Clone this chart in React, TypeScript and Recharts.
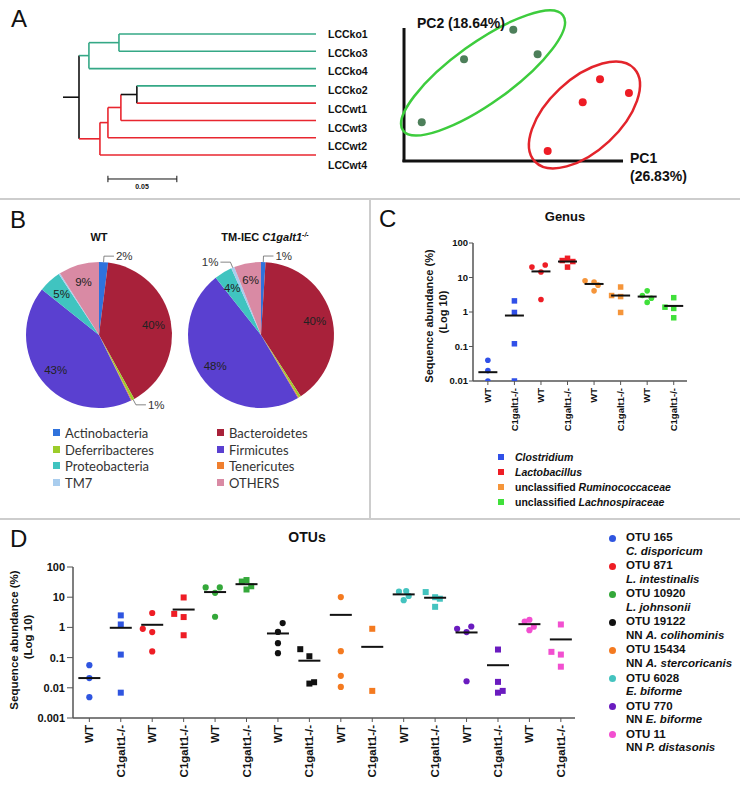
import React from 'react';
import { ScatterChart, Scatter, XAxis, YAxis, ReferenceLine, ReferenceDot, PieChart, Pie, Cell } from 'recharts';

const FONT = '"Liberation Sans", Arial, Helvetica, sans-serif';

// ---------- A: cluster tree ----------
const leafNames = ['LCCko1', 'LCCko3', 'LCCko4', 'LCCko2', 'LCCwt1', 'LCCwt3', 'LCCwt2', 'LCCwt4'];
const leafDepth = 0.172;
const rootStubStart = -0.0116;
const treeNodes = [
  { id: 'root', h: 0, kids: ['g', 'r'] },
  { id: 'g', h: 0.0072, kids: ['g2', 'LCCko4'] },
  { id: 'g2', h: 0.029, kids: ['LCCko1', 'LCCko3'] },
  { id: 'r', h: 0.0152, kids: ['r2', 'LCCwt4'] },
  { id: 'r2', h: 0.021, kids: ['r3', 'LCCwt2'] },
  { id: 'r3', h: 0.0304, kids: ['mix', 'LCCwt3'] },
  { id: 'mix', h: 0.042, kids: ['LCCko2', 'LCCwt1'] },
];
const scaleBarStart = 0.021;
const scaleBarLength = 0.05;

// ---------- A: PCA ----------
const pcaKo = [
  { x: 0.499, y: 0.987 },
  { x: 0.274, y: 0.765 },
  { x: 0.61, y: 0.802 },
  { x: 0.081, y: 0.291 },
];
const pcaWt = [
  { x: 0.895, y: 0.614 },
  { x: 1.027, y: 0.511 },
  { x: 0.816, y: 0.441 },
  { x: 0.656, y: 0.075 },
];
const koCentre = { x: 0.361, y: 0.662 };
const wtCentre = { x: 0.824, y: 0.346 };

// ---------- B: phyla ----------
const phyla = ['Actinobacteria', 'Bacteroidetes', 'Deferribacteres', 'Tenericutes', 'Firmicutes', 'Proteobacteria', 'TM7', 'OTHERS'];
const wtShare = [2, 40, 0.6, 0.2, 43, 5, 0.3, 9];
const koShare = [1, 40, 0.5, 0.2, 48, 4, 0.7, 6];
const wtPieLabels = ['2%', '40%', '1%', '', '43%', '5%', '', '9%'];
const koPieLabels = ['1%', '40%', '', '', '48%', '4%', '1%', '6%'];
const legendOrder = ['Actinobacteria', 'Deferribacteres', 'Proteobacteria', 'TM7', 'Bacteroidetes', 'Firmicutes', 'Tenericutes', 'OTHERS'];

// ---------- C: genus ----------
const groupTicks = ['WT', 'C1galt1-/-'];
const genusNames = ['Clostridium', 'Lactobacillus', 'Ruminococcaceae', 'Lachnospiraceae'];
const genusPrefix = ['', '', 'unclassified ', 'unclassified '];
// [offset within category, abundance %]
const genusWT = [
  [[0, 0.04], [0, 0.02], [0, 0.01]],
  [[-0.34, 20], [0, 14.4], [0.16, 23], [0, 2.3]],
  [[-0.34, 8.0], [0, 7.4], [0.15, 6.0], [0, 4.1]],
  [[-0.18, 3.0], [0, 4.1], [0.16, 2.5], [0, 1.9]],
];
const genusKO = [
  [[0, 2.1], [0, 0.97], [0, 0.12], [0, 0.01]],
  [[0, 36], [-0.2, 31], [0.2, 29], [0, 20]],
  [[-0.34, 3.0], [0, 5.3], [0, 2.8], [0, 0.97]],
  [[-0.33, 1.38], [0, 2.6], [0, 1.27], [0, 0.68]],
];
const genusMedianWT = [0.018, 15, 6.5, 2.8];
const genusMedianKO = [0.79, 29, 3.0, 1.5];

// ---------- D: OTUs ----------
const otuIds = ['OTU 165', 'OTU 871', 'OTU 10920', 'OTU 19122', 'OTU 15434', 'OTU 6028', 'OTU 770', 'OTU 11'];
const otuNN = ['', '', '', 'NN ', 'NN ', '', 'NN ', 'NN '];
const otuSpecies = ['C. disporicum', 'L. intestinalis', 'L. johnsonii', 'A. colihominis', 'A. stercoricanis', 'E. biforme', 'E. biforme', 'P. distasonis'];
const otuWT = [
  [[0, 0.056], [0, 0.021], [0, 0.0049]],
  [[0, 3.0], [-0.3, 0.9], [0, 0.7], [0, 0.16]],
  [[-0.3, 21], [0, 14], [0.15, 21], [0, 2.25]],
  [[0.15, 1.39], [0, 0.71], [0, 0.3], [0, 0.14]],
  [[0, 10.1], [0, 0.163], [0, 0.025], [0, 0.0107]],
  [[-0.15, 15.2], [0.08, 15.9], [0.16, 11], [0, 8.0]],
  [[-0.3, 0.9], [0, 0.7], [0.15, 1.07], [0, 0.0165]],
  [[-0.15, 1.57], [0, 1.79], [0.14, 1.05], [0, 0.81]],
];
const otuKO = [
  [[0, 2.5], [0, 1.25], [0, 0.126], [0, 0.0069]],
  [[0, 9.8], [-0.3, 2.8], [0, 2.2], [0, 0.55]],
  [[-0.15, 33], [0, 37], [0.15, 23], [0, 18]],
  [[-0.29, 0.19], [0, 0.111], [0, 0.0138], [0.15, 0.0153]],
  [[0, 0.9], [0, 0.0079]],
  [[-0.3, 14.8], [0, 10], [0.15, 8.9], [0, 4.8]],
  [[0, 0.185], [0, 0.0157], [0, 0.0069], [0.15, 0.0079]],
  [[0, 1.25], [-0.3, 0.155], [0, 0.126], [0, 0.05]],
];
const otuMedianWT = [0.021, 1.22, 14.8, 0.63, 2.6, 12.4, 0.68, 1.28];
const otuMedianKO = [0.97, 3.9, 27, 0.079, 0.227, 9.6, 0.056, 0.4];

// ---------- colours ----------
const TREE_GREEN = '#35a886';
const TREE_RED = '#e8262f';
const INK = '#111';
const phylaColors: Record<string, string> = {
  Actinobacteria: '#2f72dc',
  Bacteroidetes: '#a8213a',
  Deferribacteres: '#9ccc2a',
  Tenericutes: '#f07f2e',
  Firmicutes: '#5a40d0',
  Proteobacteria: '#40c4c0',
  TM7: '#a9cdee',
  OTHERS: '#d98aa4',
};
const genusColors = ['#3050e8', '#ee1d25', '#f5953a', '#40e03a'];
const otuColors = ['#2f55e0', '#ee1d25', '#34a83a', '#111111', '#f47a20', '#44c3bf', '#6a1bbf', '#f24fd0'];

// ---------- helpers ----------
const nodeById: Record<string, any> = Object.fromEntries(treeNodes.map((n) => [n.id, n]));
const branchColors: Record<string, string> = { root: INK, g: TREE_GREEN, g2: TREE_GREEN, r: TREE_RED, r2: TREE_RED, r3: TREE_RED, mix: INK };
const yOf = (id: string): number => {
  const n = nodeById[id];
  if (!n) return leafNames.indexOf(id);
  return (yOf(n.kids[0]) + yOf(n.kids[1])) / 2;
};
const hOf = (id: string) => (nodeById[id] ? nodeById[id].h : leafDepth);
const colorOf = (id: string) => branchColors[id] ?? (id.includes('ko') ? TREE_GREEN : TREE_RED);

const treeSegments: { x1: number; y1: number; x2: number; y2: number; c: string }[] = [];
treeSegments.push({ x1: rootStubStart, y1: yOf('root'), x2: 0, y2: yOf('root'), c: INK });
treeNodes.forEach((n) => {
  treeSegments.push({ x1: n.h, y1: yOf(n.kids[0]), x2: n.h, y2: yOf(n.kids[1]), c: colorOf(n.id) });
  n.kids.forEach((k) => treeSegments.push({ x1: n.h, y1: yOf(k), x2: hOf(k), y2: yOf(k), c: colorOf(k) }));
});

const toPoints = (groups: number[][][], first: number) =>
  groups.map((g, i) => g.map(([dx, v]) => ({ x: 2 * i + first + dx, y: v })));

const dot = (color: string, r: number) => (p: any) => <circle cx={p.cx} cy={p.cy} r={r} fill={color} />;
const square = (color: string, s: number) => (p: any) => (
  <rect x={p.cx - s / 2} y={p.cy - s / 2} width={s} height={s} fill={color} />
);
const dash = (w: number) => (p: any) => (
  <line x1={p.cx - w / 2} x2={p.cx + w / 2} y1={p.cy} y2={p.cy} stroke={INK} strokeWidth={2} />
);
const blank = () => <g />;

const RotTick = ({ x, y, payload, fs }: any) => (
  <text
    x={x}
    y={y}
    transform={`rotate(-90 ${x} ${y})`}
    textAnchor="end"
    dy="0.35em"
    fontSize={fs}
    fontWeight="bold"
    fill={INK}
    fontFamily={FONT}
  >
    {groupTicks[(payload.value - 1) % 2]}
  </text>
);

const pieLabel = (texts: string[]) => (p: any) => {
  const t = texts[p.index];
  if (!t) return null;
  const RAD = Math.PI / 180;
  const cx = Number(p.cx);
  const cy = Number(p.cy);
  const r = Number(p.outerRadius);
  const a = -p.midAngle * RAD;
  const cos = Math.cos(a);
  const sin = Math.sin(a);
  if (p.percent >= 0.03) {
    return (
      <text x={cx + r * 0.76 * cos} y={cy + r * 0.76 * sin} textAnchor="middle" dominantBaseline="central" fontSize={11.5} fill="#222" fontFamily={FONT}>
        {t}
      </text>
    );
  }
  const side = cos >= 0 ? 1 : -1;
  const x0 = cx + r * cos;
  const y0 = cy + r * sin;
  const x1 = cx + (r + 6) * cos;
  const y1 = cy + (r + 6) * sin;
  const x2 = x1 + side * 10;
  return (
    <g>
      <polyline points={`${x0},${y0} ${x1},${y1} ${x2},${y1}`} fill="none" stroke="#666" strokeWidth={0.8} />
      <text x={x2 + side * 2} y={y1} textAnchor={side > 0 ? 'start' : 'end'} dominantBaseline="central" fontSize={11.5} fill="#333" fontFamily={FONT}>
        {t}
      </text>
    </g>
  );
};

const Txt = ({ x, y, size = 12, bold = true, italic = false, anchor = 'middle', rotate = 0, color = INK, font = FONT, children }: any) => (
  <div
    style={{
      position: 'absolute',
      left: x,
      top: y,
      transform: `translate(${anchor === 'middle' ? '-50%' : anchor === 'end' ? '-100%' : '0'}, -50%) rotate(${rotate}deg)`,
      whiteSpace: 'nowrap',
      fontSize: size,
      fontWeight: bold ? 700 : 400,
      fontStyle: italic ? 'italic' : 'normal',
      color,
      lineHeight: 1,
      fontFamily: font,
    }}
  >
    {children}
  </div>
);

const Letter = ({ x, y, children }: any) => (
  <Txt x={x} y={y} size={24} bold={false} anchor="start">
    {children}
  </Txt>
);

const wtPie = phyla.map((name, i) => ({ name, value: wtShare[i] }));
const koPie = phyla.map((name, i) => ({ name, value: koShare[i] }));

const genusWTPts = toPoints(genusWT, 1);
const genusKOPts = toPoints(genusKO, 2);
const otuWTPts = toPoints(otuWT, 1);
const otuKOPts = toPoints(otuKO, 2);

const axisStroke = { stroke: '#555', strokeWidth: 1.5 };

export default function App() {
  return (
    <div style={{ position: 'absolute', left: 0, top: 0, width: 740, height: 790, background: '#fff', fontFamily: FONT, overflow: 'hidden' }}>
      {/* panel dividers */}
      <div style={{ position: 'absolute', left: 0, top: 198, width: 740, height: 2, background: '#cdcdcd' }} />
      <div style={{ position: 'absolute', left: 0, top: 518, width: 740, height: 2, background: '#cdcdcd' }} />
      <div style={{ position: 'absolute', left: 369, top: 199, width: 2, height: 320, background: '#cdcdcd' }} />

      {/* A: tree */}
      <div style={{ position: 'absolute', left: 0, top: 0 }}>
        <ScatterChart width={370} height={198} margin={{ top: 0, right: 0, bottom: 0, left: 0 }}>
          <XAxis type="number" dataKey="x" domain={[-0.05733, 0.21118]} hide allowDataOverflow />
          <YAxis type="number" dataKey="y" domain={[-1.966, 9.485]} hide reversed allowDataOverflow />
          <Scatter data={leafNames.map((n, i) => ({ x: leafDepth, y: i }))} shape={blank} isAnimationActive={false} />
          {treeSegments.map((s, i) => (
            <ReferenceLine
              key={i}
              segment={[{ x: s.x1, y: s.y1 }, { x: s.x2, y: s.y2 }]}
              stroke={s.c}
              strokeWidth={1.6}
              ifOverflow="visible"
            />
          ))}
          <ReferenceLine segment={[{ x: scaleBarStart, y: 8.386 }, { x: scaleBarStart + scaleBarLength, y: 8.386 }]} stroke={INK} strokeWidth={1} ifOverflow="visible" />
          <ReferenceLine segment={[{ x: scaleBarStart, y: 8.2 }, { x: scaleBarStart, y: 8.57 }]} stroke={INK} strokeWidth={1} ifOverflow="visible" />
          <ReferenceLine segment={[{ x: scaleBarStart + scaleBarLength, y: 8.2 }, { x: scaleBarStart + scaleBarLength, y: 8.57 }]} stroke={INK} strokeWidth={1} ifOverflow="visible" />
        </ScatterChart>
      </div>
      {leafNames.map((n, i) => (
        <Txt key={n} x={328} y={34 + 18.7 * i} size={10.5} anchor="start">
          {n}
        </Txt>
      ))}
      <Txt x={142} y={186} size={7}>
        {scaleBarLength.toFixed(2)}
      </Txt>

      {/* A: PCA */}
      <div style={{ position: 'absolute', left: 370, top: 0 }}>
        <ScatterChart width={370} height={198} margin={{ top: 0, right: 0, bottom: 0, left: 0 }}>
          <XAxis type="number" dataKey="x" domain={[-0.1553, 1.5342]} hide allowDataOverflow />
          <YAxis type="number" dataKey="y" domain={[-0.2782, 1.2105]} hide allowDataOverflow />
          <ReferenceLine segment={[{ x: 0, y: -0.008 }, { x: 0, y: 1 }]} stroke={INK} strokeWidth={3} ifOverflow="visible" />
          <ReferenceLine segment={[{ x: -0.007, y: 0 }, { x: 1, y: 0 }]} stroke={INK} strokeWidth={3} ifOverflow="visible" />
          <Scatter data={pcaKo} shape={dot('#4d7f5a', 4)} isAnimationActive={false} />
          <Scatter data={pcaWt} shape={dot('#ee1c25', 4)} isAnimationActive={false} />
          <ReferenceDot
            x={koCentre.x}
            y={koCentre.y}
            ifOverflow="visible"
            shape={(p: any) => (
              <ellipse cx={p.cx} cy={p.cy} rx={98.5} ry={30} transform={`rotate(-35.7 ${p.cx} ${p.cy})`} fill="none" stroke="#3dcc3d" strokeWidth={2.5} />
            )}
          />
          <ReferenceDot
            x={wtCentre.x}
            y={wtCentre.y}
            ifOverflow="visible"
            shape={(p: any) => (
              <ellipse cx={p.cx} cy={p.cy} rx={68} ry={36} transform={`rotate(-43 ${p.cx} ${p.cy})`} fill="none" stroke="#e3242b" strokeWidth={2.5} />
            )}
          />
        </ScatterChart>
      </div>
      <Txt x={417} y={23} size={14} anchor="start">PC2 (18.64%)</Txt>
      <Txt x={630} y={158} size={14} anchor="start">PC1</Txt>
      <Txt x={630} y={176} size={14} anchor="start">(26.83%)</Txt>

      {/* B: pies */}
      <div style={{ position: 'absolute', left: 0, top: 200 }}>
        <PieChart width={368} height={215} margin={{ top: 0, right: 0, bottom: 0, left: 0 }}>
          <Pie
            data={wtPie}
            dataKey="value"
            cx={99}
            cy={135}
            outerRadius={73}
            startAngle={90}
            endAngle={-270}
            stroke="none"
            isAnimationActive={false}
            labelLine={false}
            label={pieLabel(wtPieLabels)}
          >
            {wtPie.map((d) => (
              <Cell key={d.name} fill={phylaColors[d.name]} />
            ))}
          </Pie>
          <Pie
            data={koPie}
            dataKey="value"
            cx={261}
            cy={135}
            outerRadius={73}
            startAngle={90}
            endAngle={-270}
            stroke="none"
            isAnimationActive={false}
            labelLine={false}
            label={pieLabel(koPieLabels)}
          >
            {koPie.map((d) => (
              <Cell key={d.name} fill={phylaColors[d.name]} />
            ))}
          </Pie>
        </PieChart>
      </div>
      <Txt x={99} y={237} size={11}>WT</Txt>
      <Txt x={265} y={237} size={11}>
        TM-IEC <i>C1galt1</i>
        <sup style={{ fontSize: 7, fontStyle: 'italic' }}>-/-</sup>
      </Txt>
      {legendOrder.map((name, i) => {
        const col = Math.floor(i / 4);
        const row = i % 4;
        const x = col === 0 ? 53 : 217;
        const y = 433 + 16.6 * row;
        return (
          <React.Fragment key={name}>
            <div style={{ position: 'absolute', left: x, top: y - 4, width: 7, height: 7, background: phylaColors[name] }} />
            <Txt x={x + 12} y={y} size={13} bold={false} anchor="start" color="#333" font='Lato, "Open Sans", sans-serif'>
              {name}
            </Txt>
          </React.Fragment>
        );
      })}

      {/* C: genus */}
      <div style={{ position: 'absolute', left: 370, top: 200 }}>
        <ScatterChart width={370} height={270} margin={{ top: 43, right: 53, bottom: 29, left: 63 }}>
          <XAxis
            type="number"
            dataKey="x"
            domain={[0.44, 8.5]}
            ticks={[1, 2, 3, 4, 5, 6, 7, 8]}
            interval={0}
            height={60}
            tickSize={4}
            tickMargin={3}
            axisLine={axisStroke}
            tickLine={{ stroke: '#555' }}
            tick={(p: any) => <RotTick {...p} fs={9.5} />}
            allowDataOverflow
          />
          <YAxis
            type="number"
            dataKey="y"
            scale="log"
            domain={[0.01, 100]}
            ticks={[0.01, 0.1, 1, 10, 100]}
            width={40}
            tickSize={4}
            tickMargin={1}
            axisLine={axisStroke}
            tickLine={{ stroke: '#555' }}
            tick={{ fontSize: 9.5, fontWeight: 'bold', fill: INK, fontFamily: FONT }}
            tickFormatter={(v: number) => String(v)}
            allowDataOverflow
          />
          {genusNames.map((g, i) => (
            <Scatter key={'w' + g} data={genusWTPts[i]} shape={dot(genusColors[i], 2.8)} isAnimationActive={false} />
          ))}
          {genusNames.map((g, i) => (
            <Scatter key={'k' + g} data={genusKOPts[i]} shape={square(genusColors[i], 5.5)} isAnimationActive={false} />
          ))}
          <Scatter
            data={[...genusMedianWT.map((v, i) => ({ x: 2 * i + 1, y: v })), ...genusMedianKO.map((v, i) => ({ x: 2 * i + 2, y: v }))]}
            shape={dash(19)}
            isAnimationActive={false}
          />
        </ScatterChart>
      </div>
      <Txt x={565} y={216} size={13}>Genus</Txt>
      <Txt x={429} y={316} size={11} rotate={-90}>Sequence abundance (%)</Txt>
      <Txt x={443} y={312} size={11} rotate={-90}>(Log 10)</Txt>
      {genusNames.map((g, i) => {
        const y = 457 + 15 * i;
        return (
          <React.Fragment key={g}>
            <div style={{ position: 'absolute', left: 498, top: y - 3, width: 6, height: 6, background: genusColors[i] }} />
            <Txt x={515} y={y} size={10.5} anchor="start">
              {genusPrefix[i]}
              <i>{g}</i>
            </Txt>
          </React.Fragment>
        );
      })}

      {/* D: OTUs */}
      <div style={{ position: 'absolute', left: 0, top: 520 }}>
        <ScatterChart width={600} height={270} margin={{ top: 47, right: 25, bottom: 10, left: 33 }}>
          <XAxis
            type="number"
            dataKey="x"
            domain={[0.48, 16.45]}
            ticks={Array.from({ length: 16 }, (_, i) => i + 1)}
            interval={0}
            height={62}
            tickSize={4}
            tickMargin={3}
            axisLine={axisStroke}
            tickLine={{ stroke: '#555' }}
            tick={(p: any) => <RotTick {...p} fs={11.5} />}
            allowDataOverflow
          />
          <YAxis
            type="number"
            dataKey="y"
            scale="log"
            domain={[0.001, 100]}
            ticks={[0.001, 0.01, 0.1, 1, 10, 100]}
            width={40}
            tickSize={6}
            tickMargin={2}
            axisLine={axisStroke}
            tickLine={{ stroke: '#555' }}
            tick={{ fontSize: 11, fontWeight: 'bold', fill: INK, fontFamily: FONT }}
            tickFormatter={(v: number) => String(v)}
            allowDataOverflow
          />
          {otuIds.map((o, i) => (
            <Scatter key={'w' + o} data={otuWTPts[i]} shape={dot(otuColors[i], 3.1)} isAnimationActive={false} />
          ))}
          {otuIds.map((o, i) => (
            <Scatter key={'k' + o} data={otuKOPts[i]} shape={square(otuColors[i], 6)} isAnimationActive={false} />
          ))}
          <Scatter
            data={[...otuMedianWT.map((v, i) => ({ x: 2 * i + 1, y: v })), ...otuMedianKO.map((v, i) => ({ x: 2 * i + 2, y: v }))]}
            shape={dash(22)}
            isAnimationActive={false}
          />
        </ScatterChart>
      </div>
      <Txt x={307} y={537} size={14}>OTUs</Txt>
      <Txt x={15} y={640} size={11.5} rotate={-90}>Sequence abundance (%)</Txt>
      <Txt x={29} y={637} size={11.5} rotate={-90}>(Log 10)</Txt>
      {otuIds.map((o, i) => {
        const y = 538 + 28.1 * i;
        return (
          <React.Fragment key={o}>
            <div style={{ position: 'absolute', left: 609, top: y - 3.5, width: 7, height: 7, borderRadius: '50%', background: otuColors[i] }} />
            <Txt x={626} y={y} size={11.5} anchor="start">{o}</Txt>
            <Txt x={626} y={y + 13.5} size={11.5} anchor="start">
              {otuNN[i]}
              <i>{otuSpecies[i]}</i>
            </Txt>
          </React.Fragment>
        );
      })}

      <Letter x={11} y={19}>A</Letter>
      <Letter x={10} y={220}>B</Letter>
      <Letter x={379} y={219}>C</Letter>
      <Letter x={10} y={539}>D</Letter>
    </div>
  );
}
